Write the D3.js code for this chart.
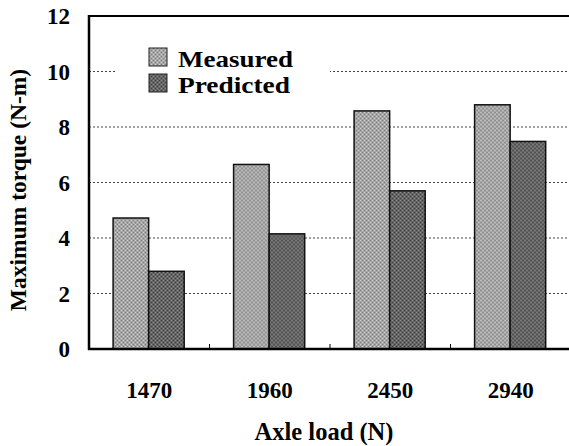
<!DOCTYPE html>
<html>
<head>
<meta charset="utf-8">
<script src="https://cdn.jsdelivr.net/npm/d3@7"></script>
<style>
  body { margin: 0; background: #fff; }
  svg { display: block; }
</style>
</head>
<body>
<svg></svg>
<script>
const width = 569;
const height = 446;

const loads = ["1470", "1960", "2450", "2940"];
const measured = [4.72, 6.65, 8.58, 8.8];
const predicted = [2.8, 4.15, 5.7, 7.48];
const yTicks = [0, 2, 4, 6, 8, 10, 12];
const seriesNames = ["Measured", "Predicted"];

const margin = { top: 16, right: -2, bottom: 97, left: 89 };
const font = "'Liberation Serif', 'Times New Roman', serif";

const svg = d3.select('svg')
  .attr('width', width)
  .attr('height', height);

const defs = svg.append('defs');
function grain(id, base, dark, light) {
  const p = defs.append('pattern')
    .attr('id', id)
    .attr('width', 4).attr('height', 4)
    .attr('patternUnits', 'userSpaceOnUse');
  p.append('rect').attr('width', 4).attr('height', 4).attr('fill', base);
  p.append('rect').attr('x', 0).attr('y', 0).attr('width', 1).attr('height', 1).attr('fill', dark);
  p.append('rect').attr('x', 2).attr('y', 2).attr('width', 1).attr('height', 1).attr('fill', dark);
  p.append('rect').attr('x', 2).attr('y', 0).attr('width', 1).attr('height', 1).attr('fill', light);
  p.append('rect').attr('x', 0).attr('y', 2).attr('width', 1).attr('height', 1).attr('fill', light);
}
grain('measuredFill', '#a6a6a6', '#7a7a7a', '#cfcfcf');
grain('predictedFill', '#666666', '#3a3a3a', '#8c8c8c');
const fills = ['url(#measuredFill)', 'url(#predictedFill)'];

const x0 = d3.scaleBand()
  .domain(loads)
  .range([margin.left, width - margin.right])
  .paddingInner(0)
  .paddingOuter(0);

const x1 = d3.scaleBand()
  .domain(seriesNames)
  .range([x0.bandwidth() * 0.2, x0.bandwidth() * 0.79]);

const y = d3.scaleLinear()
  .domain([0, 12])
  .range([height - margin.bottom, margin.top]);

// dotted gridlines
svg.append('g')
  .selectAll('line')
  .data(yTicks.filter(t => t > 0 && t < 12))
  .enter().append('line')
    .attr('x1', margin.left)
    .attr('x2', width)
    .attr('y1', d => y(d))
    .attr('y2', d => y(d))
    .attr('stroke', '#444')
    .attr('stroke-width', 1)
    .attr('stroke-dasharray', '2,2');

// legend background hides the grid behind it
svg.append('rect')
  .attr('x', 115)
  .attr('y', 40)
  .attr('width', 215)
  .attr('height', 60)
  .attr('fill', 'white');

// bars
const groups = svg.append('g')
  .selectAll('g')
  .data(loads)
  .enter().append('g')
    .attr('transform', d => 'translate(' + x0(d) + ',0)');

groups.selectAll('rect')
  .data((d, i) => [measured[i], predicted[i]])
  .enter().append('rect')
    .attr('x', (d, j) => x1(seriesNames[j]))
    .attr('y', d => y(d))
    .attr('width', x1.bandwidth())
    .attr('height', d => y(0) - y(d))
    .attr('fill', (d, j) => fills[j])
    .attr('stroke', '#111')
    .attr('stroke-width', 1.5);

// axes frame
svg.append('line')
  .attr('x1', margin.left).attr('x2', margin.left)
  .attr('y1', y(12) - 1).attr('y2', y(0) + 1)
  .attr('stroke', '#000').attr('stroke-width', 2.5);
svg.append('line')
  .attr('x1', margin.left - 1).attr('x2', width)
  .attr('y1', y(0)).attr('y2', y(0))
  .attr('stroke', '#000').attr('stroke-width', 2.5);
svg.append('line')
  .attr('x1', margin.left - 1).attr('x2', width)
  .attr('y1', y(12)).attr('y2', y(12))
  .attr('stroke', '#000').attr('stroke-width', 2);

// small ticks between the groups
svg.append('g')
  .selectAll('line')
  .data(loads.slice(1))
  .enter().append('line')
    .attr('x1', d => x0(d))
    .attr('x2', d => x0(d))
    .attr('y1', y(0))
    .attr('y2', y(0) - 5)
    .attr('stroke', '#000')
    .attr('stroke-width', 1);

// y tick labels
svg.append('g')
  .selectAll('text')
  .data(yTicks)
  .enter().append('text')
    .attr('x', 70)
    .attr('y', d => y(d) + 8)
    .attr('text-anchor', 'end')
    .attr('font-family', font)
    .attr('font-weight', 'bold')
    .attr('font-size', 23)
    .text(d => d);

// x tick labels
svg.append('g')
  .selectAll('text')
  .data(loads)
  .enter().append('text')
    .attr('x', d => x0(d) + x0.bandwidth() / 2)
    .attr('y', 398)
    .attr('text-anchor', 'middle')
    .attr('font-family', font)
    .attr('font-weight', 'bold')
    .attr('font-size', 23)
    .text(d => d);

// axis titles
svg.append('text')
  .attr('x', 324)
  .attr('y', 440)
  .attr('text-anchor', 'middle')
  .attr('font-family', font)
  .attr('font-weight', 'bold')
  .attr('font-size', 24.5)
  .text('Axle load (N)');

svg.append('text')
  .attr('transform', 'translate(26,' + 190 + ') rotate(-90)')
  .attr('text-anchor', 'middle')
  .attr('font-family', font)
  .attr('font-weight', 'bold')
  .attr('font-size', 23.5)
  .text('Maximum torque (N-m)');

// legend
const legend = svg.append('g')
  .selectAll('g')
  .data(seriesNames)
  .enter().append('g')
    .attr('transform', (d, i) => 'translate(149,' + (48 + i * 26) + ')');

legend.append('rect')
  .attr('width', 18)
  .attr('height', 18)
  .attr('fill', (d, i) => fills[i])
  .attr('stroke', '#222')
  .attr('stroke-width', 1);

legend.append('text')
  .attr('x', 29)
  .attr('y', 19)
  .attr('font-family', font)
  .attr('font-weight', 'bold')
  .attr('font-size', 23)
  .attr('textLength', (d, i) => [115, 112][i])
  .attr('lengthAdjust', 'spacingAndGlyphs')
  .text(d => d);
</script>
</body>
</html>
